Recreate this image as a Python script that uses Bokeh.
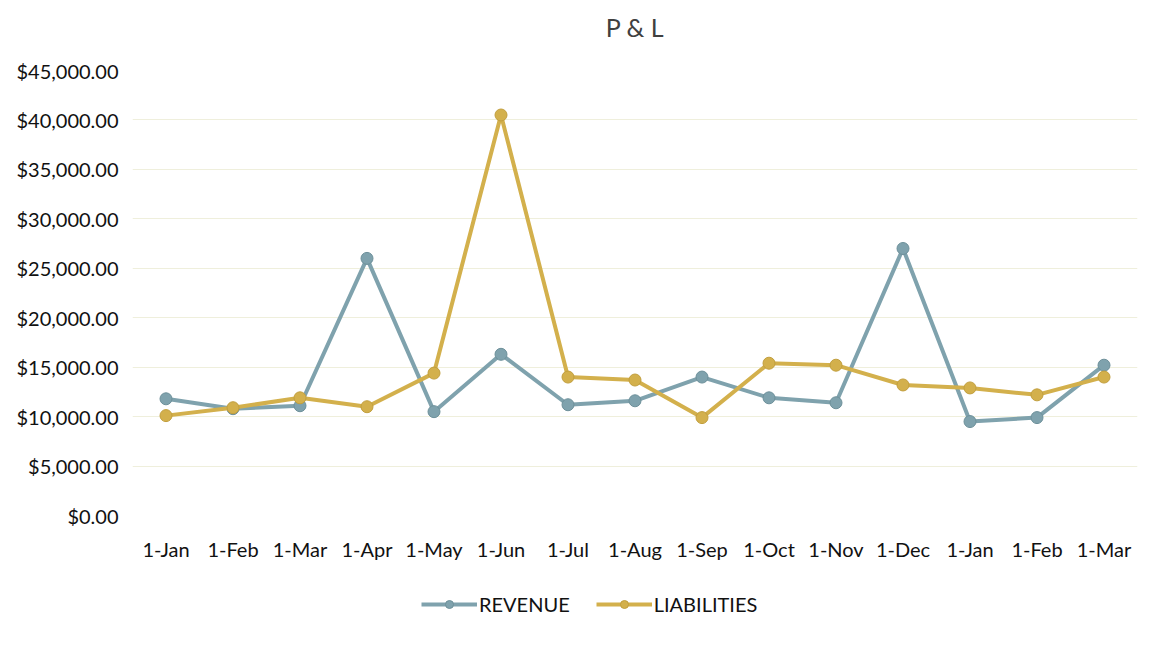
from bokeh.plotting import figure
from bokeh.layouts import column
from bokeh.models import ColumnDataSource, Legend, LegendItem, NumeralTickFormatter, FixedTicker, Range1d
from bokeh.core.properties import value
from bokeh.embed import file_html
from bokeh.resources import INLINE

title_text = "P & L"
months = ["1-Jan", "1-Feb", "1-Mar", "1-Apr", "1-May", "1-Jun", "1-Jul", "1-Aug",
          "1-Sep", "1-Oct", "1-Nov", "1-Dec", "1-Jan", "1-Feb", "1-Mar"]
revenue = [11800, 10800, 11100, 26000, 10500, 16300, 11200, 11600,
           14000, 11900, 11400, 27000, 9500, 9900, 15200]
liabilities = [10100, 10900, 11900, 11000, 14400, 40500, 14000, 13700,
               9900, 15400, 15200, 13200, 12900, 12200, 14000]
y_ticks = [0, 5000, 10000, 15000, 20000, 25000, 30000, 35000, 40000, 45000]

xs = list(range(len(months)))
src = ColumnDataSource(dict(x=xs, rev=revenue, lia=liabilities))

FONT = "Lato"
REV_C = "#7fa2ad"
LIA_C = "#d3b04c"
REV_EDGE = "#6d909a"
LIA_EDGE = "#c29f3e"


def blank(height):
    f = figure(width=1158, height=height, output_backend="svg", toolbar_location=None,
               x_range=Range1d(0, 1), y_range=Range1d(0, 1),
               min_border_left=0, min_border_right=0, min_border_top=0, min_border_bottom=0)
    f.axis.visible = False
    f.grid.grid_line_color = None
    f.outline_line_color = None
    return f


# title strip
tt = blank(40)
tt.text(x=[0.5], y=[0.35], text=[title_text], text_align="center", text_baseline="middle",
        text_font=value(FONT), text_font_size="25px", text_color="#404040")

# main chart
p = figure(width=1158, height=537, output_backend="svg", toolbar_location=None,
           x_range=Range1d(-0.5, len(months) - 0.5), y_range=Range1d(0, 45000),
           min_border_left=132, min_border_right=21, min_border_top=30,
           min_border_bottom=62)
p.outline_line_color = None
p.background_fill_color = "white"
p.border_fill_color = "white"

p.xaxis.ticker = FixedTicker(ticks=xs)
p.xaxis.major_label_overrides = {i: m for i, m in enumerate(months)}
p.yaxis.ticker = FixedTicker(ticks=y_ticks)
p.yaxis.formatter = NumeralTickFormatter(format="$0,0.00")
for ax in (p.xaxis[0], p.yaxis[0]):
    ax.axis_line_color = None
    ax.major_tick_line_color = None
    ax.minor_tick_line_color = None
    ax.major_tick_out = 0
    ax.major_tick_in = 0
    ax.major_label_text_font = FONT
    ax.major_label_text_font_size = "20px"
    ax.major_label_text_color = "#111111"
p.xaxis.major_label_standoff = 21
p.yaxis.major_label_standoff = 14

p.xgrid.grid_line_color = None
p.ygrid.grid_line_color = "#efefdc"
p.ygrid.grid_line_width = 1

p.line("x", "rev", source=src, line_color=REV_C, line_width=4)
p.scatter("x", "rev", source=src, marker="circle", size=12, fill_color=REV_C, line_color=REV_EDGE)
p.line("x", "lia", source=src, line_color=LIA_C, line_width=4)
p.scatter("x", "lia", source=src, marker="circle", size=12, fill_color=LIA_C, line_color=LIA_EDGE)

# legend strip below the chart (dummy glyphs sit outside the visible range)
lg = blank(52)
dummy = ColumnDataSource(dict(x=[-10, -9], y=[-10, -10]))
a1 = lg.line("x", "y", source=dummy, line_color=REV_C, line_width=4)
a2 = lg.scatter("x", "y", source=dummy, marker="circle", size=12, fill_color=REV_C, line_color=REV_EDGE)
b1 = lg.line("x", "y", source=dummy, line_color=LIA_C, line_width=4)
b2 = lg.scatter("x", "y", source=dummy, marker="circle", size=12, fill_color=LIA_C, line_color=LIA_EDGE)

legend = Legend(items=[LegendItem(label="REVENUE", renderers=[a1, a2]),
                       LegendItem(label="LIABILITIES", renderers=[b1, b2])],
                orientation="horizontal", location=(289, 13),
                label_text_font=FONT, label_text_font_size="20px",
                label_text_color="#111111", glyph_width=56, glyph_height=20,
                spacing=26, label_standoff=2,
                border_line_color=None, background_fill_alpha=0, padding=4)
lg.add_layout(legend)

layout = column(tt, p, lg, spacing=0)
open("out.html", "w").write(file_html(layout, INLINE))
